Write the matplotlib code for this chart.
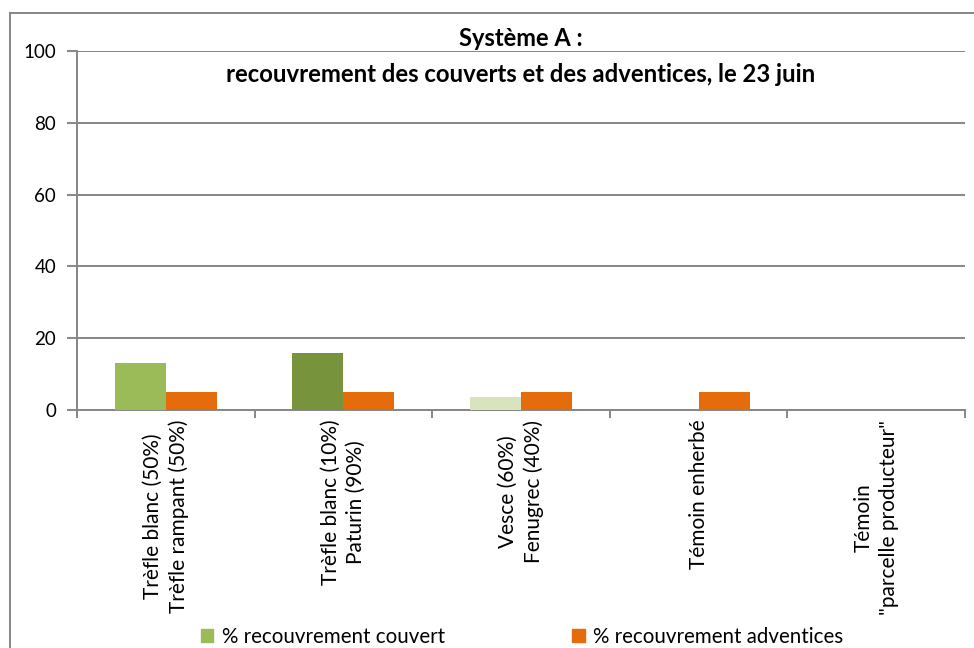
import numpy as np
import matplotlib.pyplot as plt
from matplotlib.patches import Patch
from matplotlib.lines import Line2D

plt.rcParams['font.family'] = ['Lato', 'DejaVu Sans']

# data
categories = ['Trèfle blanc (50%)\nTrèfle rampant (50%)',
              'Trèfle blanc (10%)\nPaturin (90%)',
              'Vesce (60%)\nFenugrec (40%)',
              'Témoin enherbé',
              'Témoin\n"parcelle producteur"']
couvert = [13, 16, 3.5, 0, 0]
adventices = [5, 5, 5, 5, 0]
couvert_colors = ['#9BBB59', '#77933C', '#D7E4BD', '#9BBB59', '#9BBB59']
adv_color = '#E46C0A'
grid_col = '#868686'

fig = plt.figure(figsize=(9.74, 6.48), dpi=100)
ax = fig.add_axes([77 / 974, 1 - 410 / 648, (965 - 77) / 974, (410 - 51) / 648])

x = np.arange(len(categories))
w = 0.2875
ax.bar(x - w / 2, couvert, w, color=couvert_colors, zorder=3)
ax.bar(x + w / 2, adventices, w, color=adv_color, zorder=3)

ax.set_xlim(-0.5, len(categories) - 0.5)
ax.set_ylim(0, 100)
ax.set_yticks(range(0, 101, 20))
ax.yaxis.grid(True, color=grid_col, lw=1.4, zorder=0)
ax.set_axisbelow(True)

# category boundaries as major ticks, labels on minor ticks
ax.set_xticks(np.arange(-0.5, len(categories), 1))
ax.set_xticklabels([])
ax.set_xticks(x, minor=True)
ax.set_xticklabels(categories, minor=True, rotation=90, fontsize=15,
                   ha='center', va='top', linespacing=1.3)
ax.tick_params(axis='x', which='major', length=6, width=1.4, color=grid_col)
ax.tick_params(axis='x', which='minor', length=0, pad=7)
ax.tick_params(axis='y', length=7, width=1.4, color=grid_col, labelsize=13.5, pad=8)

for s in ['top', 'right']:
    ax.spines[s].set_visible(False)
for s in ['left', 'bottom']:
    ax.spines[s].set_color(grid_col)
    ax.spines[s].set_linewidth(1.4)

fig.text(521 / 974, 1 - 38 / 648, 'Système A :', ha='center', va='center',
         fontsize=17, fontweight='bold')
fig.text(521 / 974, 1 - 75 / 648,
         'recouvrement des couverts et des adventices, le 23 juin',
         ha='center', va='center', fontsize=17.2, fontweight='bold')

# outer chart border
fig.add_artist(Line2D([10 / 974, 1], [1 - 13 / 648] * 2, color=grid_col, lw=1.4))
fig.add_artist(Line2D([10 / 974] * 2, [0, 1 - 13 / 648], color=grid_col, lw=1.4))

handles = [Patch(color='#9BBB59', label='% recouvrement couvert'),
           Patch(color=adv_color, label='% recouvrement adventices')]
fig.legend(handles=handles, loc='center', bbox_to_anchor=(522 / 974, 11 / 648),
           ncol=2, frameon=False, fontsize=14.8, handlelength=0.6, handleheight=0.6,
           handletextpad=0.4, columnspacing=6.2)

fig.savefig('out.png', dpi=100)
